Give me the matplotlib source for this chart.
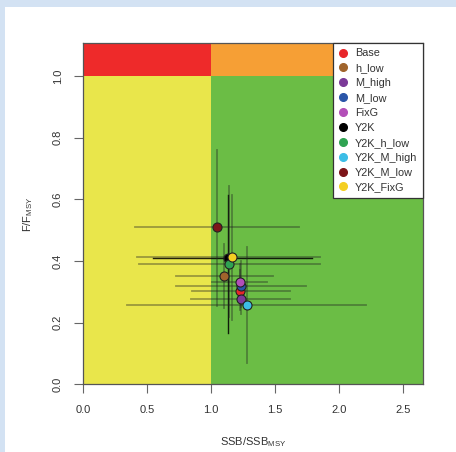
import matplotlib
matplotlib.use("Agg")
import matplotlib.pyplot as plt
from matplotlib.lines import Line2D
from matplotlib.patches import Rectangle

plt.rcParams["font.family"] = ["Liberation Sans", "DejaVu Sans"]
plt.rcParams["mathtext.fontset"] = "custom"
plt.rcParams["mathtext.rm"] = "Liberation Sans"

# scenario estimates
scenarios = ["Base", "h_low", "M_high", "M_low", "FixG", "Y2K",
             "Y2K_h_low", "Y2K_M_high", "Y2K_M_low", "Y2K_FixG"]
colors = ["#e8262a", "#a0642c", "#7b3a98", "#2a55a8", "#b34fb8", "#000000",
          "#2fa352", "#3cbde6", "#7d1519", "#f4cf22"]
ssb = [1.227, 1.10, 1.232, 1.232, 1.224, 1.13, 1.143, 1.279, 1.044, 1.164]
fval = [0.302, 0.351, 0.277, 0.318, 0.333, 0.409, 0.39, 0.259, 0.509, 0.412]
ssb_lo = [0.85, 0.73, 0.843, 0.73, 1.01, 0.548, 0.44, 0.347, 0.407, 0.425]
ssb_hi = [1.613, 1.48, 1.62, 1.74, 1.44, 1.785, 1.848, 2.21, 1.69, 1.848]
f_lo = [0.24, 0.249, 0.25, 0.23, 0.27, 0.166, 0.219, 0.069, 0.256, 0.208]
f_hi = [0.37, 0.455, 0.31, 0.40, 0.39, 0.614, 0.643, 0.446, 0.76, 0.614]

xticks = [0.0, 0.5, 1.0, 1.5, 2.0, 2.5]
yticks = [0.0, 0.2, 0.4, 0.6, 0.8, 1.0]
xmax, ymax = 2.655, 1.107

fig = plt.figure(figsize=(4.5601, 4.5201), dpi=100)
fig.patch.set_facecolor("#d3e2f3")
fig.patches.append(Rectangle((5 / 456, -0.1), 2, 1.1 - 7 / 452, transform=fig.transFigure,
                             facecolor="white", edgecolor="none", zorder=-10))

ax = fig.add_axes([83 / 456, 1 - 384.5 / 452, 340 / 456, 341.5 / 452])

# kobe quadrants
ax.add_patch(Rectangle((0, 0), 1, 1, facecolor="#e9e64b", edgecolor="none", zorder=0))
ax.add_patch(Rectangle((1, 0), xmax, 1, facecolor="#6bbd45", edgecolor="none", zorder=0))
ax.add_patch(Rectangle((0, 1), 1, ymax, facecolor="#ee2a2a", edgecolor="none", zorder=0))
ax.add_patch(Rectangle((1, 1), xmax, ymax, facecolor="#f69f35", edgecolor="none", zorder=0))

for i, s in enumerate(scenarios):
    if s == "Y2K":
        lc, al, lw = "black", 0.85, 1.0
    else:
        lc, al, lw = "#222222", 0.4, 1.3
    ax.plot([ssb_lo[i], ssb_hi[i]], [fval[i], fval[i]], color=lc, alpha=al, lw=lw, zorder=2)
    ax.plot([ssb[i], ssb[i]], [f_lo[i], f_hi[i]], color=lc, alpha=al, lw=lw, zorder=2)

for i, s in enumerate(scenarios):
    ax.plot(ssb[i], fval[i], "o", ms=6.5, mfc=colors[i], mec="#222222", mew=0.8, zorder=3)

ax.set_xlim(0, xmax)
ax.set_ylim(0, ymax)
ax.set_xticks(xticks)
ax.set_yticks(yticks)
ax.set_xticklabels([f"{t:.1f}" for t in xticks])
ax.set_yticklabels([f"{t:.1f}" for t in yticks], rotation=90, va="center")
ax.tick_params(length=6.5, width=0.8, color="#666666", labelsize=8, labelcolor="#333333", pad=8)
for sp in ax.spines.values():
    sp.set_color("#555555")
    sp.set_linewidth(0.9)
    sp.set_zorder(5)

ax.set_xlabel(r"SSB/SSB$_{\mathrm{MSY}}$", fontsize=8, color="#333333", labelpad=15)
ax.set_ylabel(r"F/F$_{\mathrm{MSY}}$", fontsize=8, color="#333333", labelpad=13)

handles = [Line2D([], [], ls="none", marker="o", ms=5.5, mfc=c, mec=c) for c in colors]
leg = ax.legend(handles, scenarios, loc="upper right", borderaxespad=0, fontsize=7.8,
                fancybox=False, framealpha=1, edgecolor="#333333", labelspacing=0.45,
                handlelength=0.8, handletextpad=0.75, borderpad=0.5)
leg.get_frame().set_linewidth(0.9)
leg.set_zorder(6)
for t in leg.get_texts():
    t.set_color("#333333")

fig.savefig("out.png", dpi=100)
